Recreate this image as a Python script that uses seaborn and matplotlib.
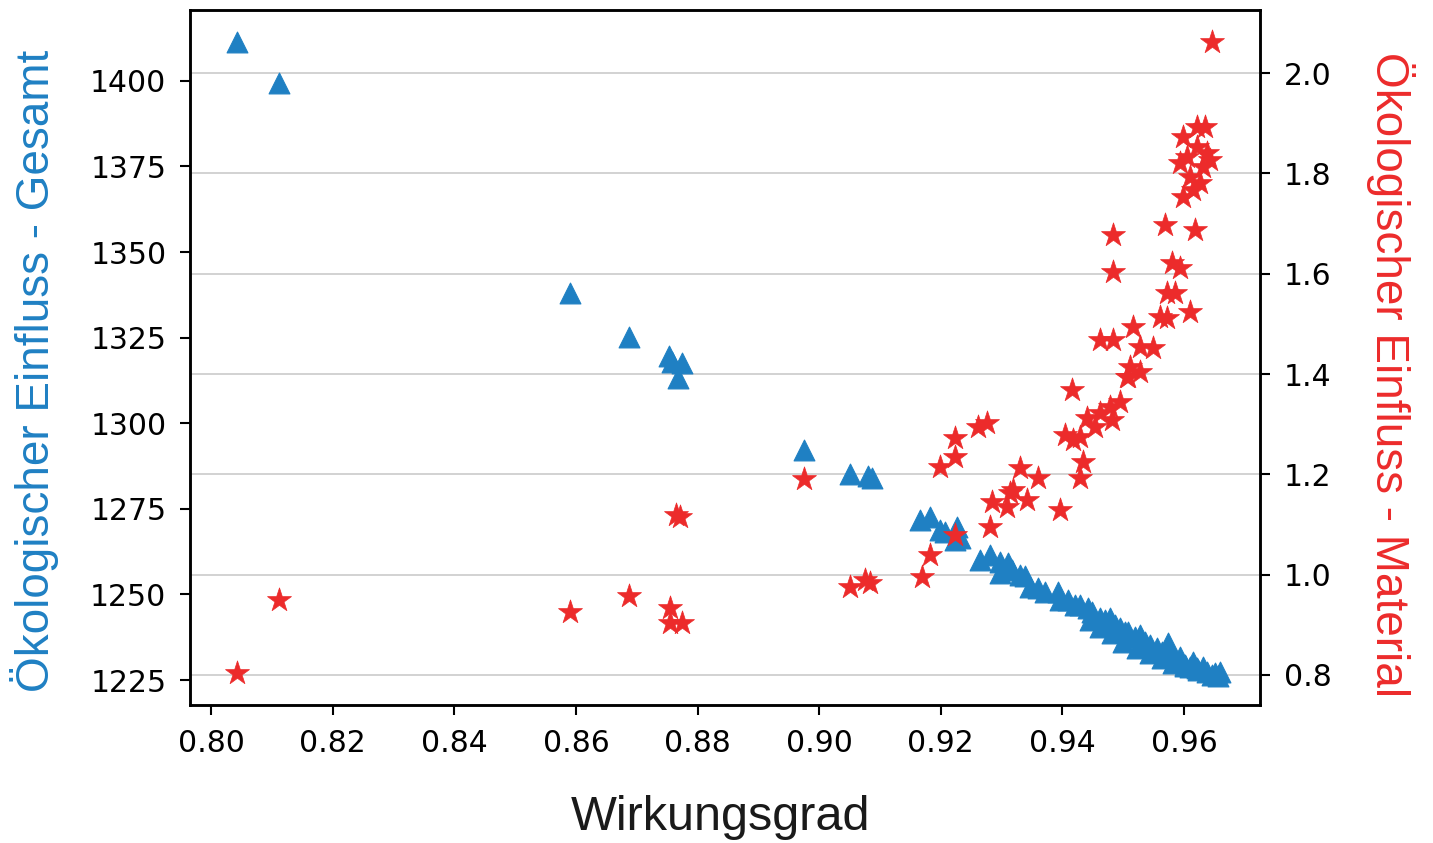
import numpy as np
import pandas as pd
import matplotlib
matplotlib.use('Agg')
import matplotlib.pyplot as plt
from matplotlib.ticker import FixedLocator
import seaborn as sns

# Gesamt (blue triangles): Wirkungsgrad vs. total impact
eta_total = [0.8043, 0.8112, 0.8590, 0.8687, 0.8753, 0.8758, 0.8775, 0.8768,
             0.8975, 0.9051, 0.9080, 0.9087, 0.9166, 0.9182, 0.9199, 0.9207,
             0.9227, 0.9224, 0.9232,
             0.9265, 0.9281, 0.9297, 0.9311, 0.9317, 0.9330, 0.9339, 0.9360,
             0.9371, 0.9393, 0.9396, 0.9409, 0.9421, 0.9429, 0.9442, 0.9449,
             0.9462, 0.9470, 0.9478, 0.9487, 0.9495, 0.9503, 0.9508, 0.9519,
             0.9528, 0.9536, 0.9544, 0.9556, 0.9564, 0.9574, 0.9577, 0.9585,
             0.9593, 0.9602, 0.9610, 0.9615, 0.9623, 0.9631, 0.9638, 0.9646,
             0.9651, 0.9656,
             0.9297, 0.9347, 0.9445, 0.9462, 0.9482, 0.9500, 0.9523, 0.9544,
             0.9564, 0.9582, 0.9602, 0.9621, 0.9659]
impact_total = [1411.4, 1399.4, 1338.1, 1325.2, 1319.7, 1317.9, 1317.6, 1313.2,
                1292.2, 1285.2, 1284.6, 1284.0, 1271.7, 1272.6, 1268.8, 1268.2,
                1269.7, 1265.9, 1266.5,
                1260.1, 1261.5, 1259.5, 1259.2, 1257.1, 1255.7, 1255.4, 1251.9,
                1250.7, 1250.7, 1248.4, 1248.4, 1246.9, 1246.9, 1246.0, 1244.9,
                1243.1, 1242.5, 1243.1, 1241.1, 1240.2, 1239.0, 1239.0, 1237.6,
                1238.1, 1236.1, 1235.2, 1234.4, 1233.2, 1235.8, 1231.7, 1230.8,
                1231.7, 1229.4, 1228.8, 1230.3, 1227.9, 1228.8, 1227.3, 1226.5,
                1227.0, 1226.2,
                1256.3, 1252.2, 1242.5, 1240.5, 1238.7, 1236.1, 1234.4, 1232.9,
                1231.4, 1230.0, 1229.1, 1228.5, 1227.3]

# Material (red stars): Wirkungsgrad vs. material impact
eta_mat = [0.8043, 0.8112, 0.8590, 0.8687, 0.8755, 0.8755, 0.8775, 0.8765,
           0.8771, 0.8975, 0.9051, 0.9075, 0.9084, 0.9169, 0.9182, 0.9224,
           0.9281, 0.9284, 0.9314, 0.9319, 0.9309, 0.9342, 0.9330, 0.9360,
           0.9396, 0.9199, 0.9224, 0.9224, 0.9261, 0.9276, 0.9429, 0.9434,
           0.9404, 0.9429, 0.9416, 0.9418, 0.9441, 0.9454, 0.9462, 0.9478,
           0.9495, 0.9482, 0.9508, 0.9528, 0.9462, 0.9483, 0.9516, 0.9528,
           0.9549, 0.9511, 0.9506, 0.9561, 0.9572, 0.9610, 0.9572, 0.9585,
           0.9580, 0.9593, 0.9569, 0.9618, 0.9483, 0.9483, 0.9598, 0.9615,
           0.9626, 0.9593, 0.9605, 0.9621, 0.9638, 0.9643, 0.9598, 0.9621,
           0.9635, 0.9610, 0.9631, 0.9646]
impact_mat = [0.804, 0.950, 0.926, 0.958, 0.934, 0.904, 0.904, 1.119,
              1.115, 1.191, 0.975, 0.989, 0.983, 0.995, 1.039, 1.079,
              1.095, 1.145, 1.163, 1.169, 1.135, 1.149, 1.213, 1.193,
              1.129, 1.215, 1.235, 1.273, 1.295, 1.302, 1.193, 1.225,
              1.279, 1.275, 1.368, 1.269, 1.312, 1.295, 1.322, 1.334,
              1.344, 1.308, 1.394, 1.404, 1.468, 1.468, 1.494, 1.454,
              1.452, 1.414, 1.394, 1.514, 1.512, 1.524, 1.562, 1.562,
              1.622, 1.612, 1.697, 1.687, 1.677, 1.604, 1.753, 1.767,
              1.781, 1.821, 1.833, 1.853, 1.841, 1.827, 1.873, 1.893,
              1.893, 1.793, 1.813, 2.062]

x_ticks = [0.80, 0.82, 0.84, 0.86, 0.88, 0.90, 0.92, 0.94, 0.96]
left_ticks = [1225, 1250, 1275, 1300, 1325, 1350, 1375, 1400]
right_ticks = [0.8, 1.0, 1.2, 1.4, 1.6, 1.8, 2.0]

blue = '#1f80c3'
red = '#ec2b2b'

sns.set_style('ticks')
plt.rcParams['font.family'] = ['DejaVu Sans']

fig = plt.figure(figsize=(14.33, 8.43), dpi=100)
ax = fig.add_axes([190 / 1433, 1 - 705 / 843, 1070 / 1433, 695 / 843])
ax2 = ax.twinx()

df_total = pd.DataFrame({'eta': eta_total, 'impact': impact_total})
df_mat = pd.DataFrame({'eta': eta_mat, 'impact': impact_mat})

sns.scatterplot(data=df_total, x='eta', y='impact', ax=ax, marker='^', s=225,
                color=blue, edgecolor=blue, linewidth=0.8, zorder=3)
sns.scatterplot(data=df_mat, x='eta', y='impact', ax=ax2, marker='*', s=330,
                color=red, edgecolor=red, linewidth=0.5, zorder=3)

ax.set_xlim(0.7965, 0.9725)
ax.set_ylim(1217.7, 1420.7)
ax2.set_ylim(0.740, 2.126)

ax.set_xticks(x_ticks)
ax.set_xticklabels([f'{v:.2f}' for v in x_ticks])
ax.set_yticks(left_ticks)
ax2.set_yticks(right_ticks)
ax2.set_yticklabels([f'{v:.1f}' for v in right_ticks])

# grid lines belong to the right axis, drawn on the lower axes so markers cover them
l0, l1 = ax.get_ylim()
r0, r1 = ax2.get_ylim()
mapped = [l0 + (v - r0) / (r1 - r0) * (l1 - l0) for v in right_ticks]
ax.yaxis.set_minor_locator(FixedLocator(mapped))
ax.grid(which='minor', axis='y', color='#cfcfcf', linewidth=1.3, zorder=0)
ax.tick_params(axis='y', which='minor', length=0)

for a in (ax, ax2):
    a.set_xlabel('')
    a.set_ylabel('')
    for sp in a.spines.values():
        sp.set_visible(True)
        sp.set_linewidth(1.8)
        sp.set_color('black')
    a.tick_params(which='major', labelsize=21.5, length=7, width=1.5, pad=10,
                  colors='black')

lab_font = ['Liberation Sans', 'DejaVu Sans']
fig.text(35 / 1433, 1 - 371 / 843, 'Ökologischer Einfluss - Gesamt', rotation=90,
         ha='center', va='center', fontsize=33, color=blue, family=lab_font)
fig.text(1390 / 1433, 1 - 375 / 843, 'Ökologischer Einfluss - Material', rotation=270,
         ha='center', va='center', fontsize=33, color=red, family=lab_font)
fig.text(721 / 1433, 1 - 818 / 843, 'Wirkungsgrad', ha='center', va='center',
         fontsize=35, color='#1a1a1a', family=lab_font)

fig.savefig('out.png', dpi=100)
